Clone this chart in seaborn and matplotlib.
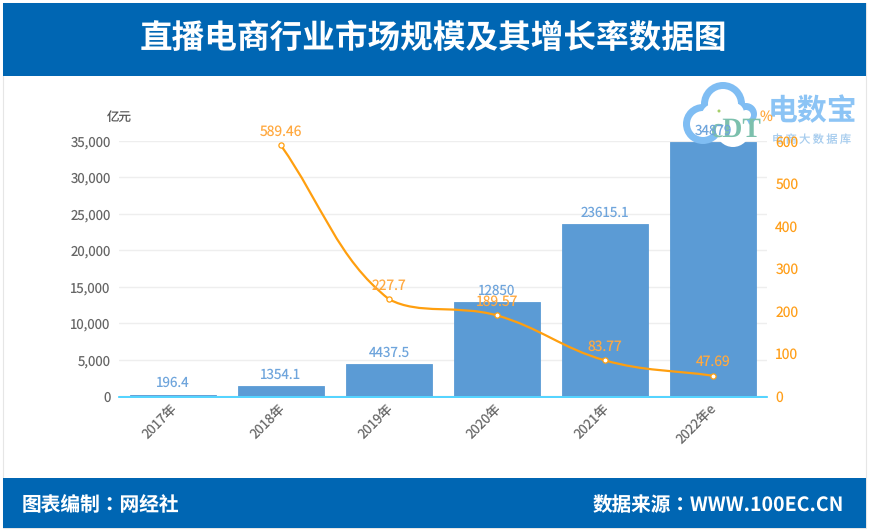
import matplotlib
matplotlib.use("Agg")
import matplotlib.pyplot as plt
from matplotlib.patches import Circle, PathPatch, Rectangle
from matplotlib.path import Path
from matplotlib.transforms import ScaledTranslation
import numpy as np
import pandas as pd
import seaborn as sns

years = ["2017年", "2018年", "2019年", "2020年", "2021年", "2022年e"]
market_size = [196.4, 1354.1, 4437.5, 12850, 23615.1, 34879]
market_labels = ["196.4", "1354.1", "4437.5", "12850", "23615.1", "34879"]
growth = [np.nan, 589.46, 227.7, 189.57, 83.77, 47.69]
growth_labels = ["", "589.46", "227.7", "189.57", "83.77", "47.69"]
left_ticks = [0, 5000, 10000, 15000, 20000, 25000, 30000, 35000]
right_ticks = [0, 100, 200, 300, 400, 500, 600]

BLUE = "#0066b3"
BAR = "#5b9bd5"
ORANGE = "#ff9f0f"
LABEL_ORANGE = "#ffa940"
GREY = "#666666"
W, H = 869, 532

sns.set_theme(style="white")
plt.rcParams["font.family"] = ["Noto Sans CJK SC", "DejaVu Sans"]
plt.rcParams["text.hinting"] = "no_hinting"

df = pd.DataFrame({"year": years, "size": market_size, "growth": growth})

fig = plt.figure(figsize=(W / 100, H / 100), dpi=100, facecolor="white")


def pixel_axes(zorder):
    # full figure axes in image pixels, for the bands and the logo
    a = fig.add_axes([0, 0, 1, 1], zorder=zorder)
    a.set_xlim(0, W)
    a.set_ylim(H, 0)
    a.axis("off")
    return a


# header, footer
bg = pixel_axes(0)
bg.add_patch(Rectangle((3, 3), 863, 525, fc="white", ec="#e6e6e6", lw=0.8))
bg.add_patch(Rectangle((3, 3), 863, 73, fc=BLUE, ec="none"))
bg.add_patch(Rectangle((3, 478), 863, 50, fc=BLUE, ec="none"))
bg.text(433, 38, "直播电商行业市场规模及其增长率数据图", color="white", fontsize=23.5,
        fontweight="bold", ha="center", va="center")
# the TC face has the centred colon of the original
bg.text(22, 505, "图表编制：网经社", color="white", fontsize=14.2, family=["Noto Sans CJK TC", "DejaVu Sans"],
        fontweight="bold", ha="left", va="center")
bg.text(844, 505, "数据来源：WWW.100EC.CN", color="white", fontsize=14.1, family=["Noto Sans CJK TC", "DejaVu Sans"],
        fontweight="bold", ha="right", va="center")

# bars
rect = [119 / W, 1 - 396 / H, 648 / W, 255 / H]
ax = fig.add_axes(rect, zorder=1)
ax.patch.set_alpha(0)
sns.barplot(data=df, x="year", y="size", color=BAR, saturation=1, width=0.8, ax=ax, zorder=3,
            edgecolor=BAR, linewidth=0.6)
ax.set_xlim(-0.5, 5.5)
ax.set_ylim(0, 35000)
ax.set_yticks(left_ticks)
ax.set_yticklabels([f"{t:,}" for t in left_ticks])
ax.set_xlabel("")
ax.set_ylabel("")
ax.grid(axis="y", color="#eeeeee", lw=1)
ax.set_axisbelow(True)
for side in ["top", "left", "right"]:
    ax.spines[side].set_visible(False)
ax.spines["bottom"].set_color("#33ccff")
ax.spines["bottom"].set_linewidth(1.2)
ax.spines["bottom"].set_position(("outward", 0.8))
ax.spines["bottom"].set_zorder(2)
# set_position resets the axis, so the labels are styled after it
ax.tick_params(axis="y", length=0, pad=6, labelsize=9.5, labelcolor=GREY)
ax.tick_params(axis="x", length=0, pad=3, labelsize=9.5, labelcolor=GREY)
ax.set_xticks(range(len(years)))
ax.set_xticklabels(years)
plt.setp(ax.get_xticklabels(), rotation=45, ha="right", rotation_mode="anchor")
nudge = ScaledTranslation(-3 / 100, 0, fig.dpi_scale_trans)
for lab in ax.get_xticklabels():
    lab.set_transform(lab.get_transform() + nudge)

# watermark logo sits over the bars but under the labels
logo = pixel_axes(2)
cloud = "#7fbdf3"
for cx, cy, r in [(703, 124, 20), (723, 104, 22), (746, 114, 11)]:
    logo.add_patch(Circle((cx, cy), r, fc=cloud, ec="none"))
for cx, cy, r in [(703, 124, 13), (723, 104, 15), (746, 115, 5), (716, 118, 15), (734, 113, 10), (733, 130, 17)]:
    logo.add_patch(Circle((cx, cy), r, fc="white", ec="none"))
logo.text(735, 130, "cDT", color="#7cc0ad", fontsize=20, fontweight="bold", family="Liberation Serif",
          ha="center", va="center")
logo.add_patch(Circle((719, 111), 1.5, fc="#a6cf6a", ec="none"))
logo.text(812, 111, "电数宝", color="#8cc4f5", fontsize=21.5, fontweight="bold", ha="center", va="center")
logo.text(812, 140, "电 商 大 数 据 库", color="#a8cdee", fontsize=8, ha="center", va="center")

# growth line on its own axis
ax2 = fig.add_axes(rect, zorder=3, sharex=ax)
ax2.patch.set_alpha(0)
ax2.yaxis.tick_right()
ax2.set_ylim(0, 600)
ax2.set_yticks(right_ticks)
ax2.tick_params(axis="y", length=0, pad=6, labelsize=10, labelcolor="#ff9f1a", labelright=True, labelleft=False)
ax2.tick_params(axis="x", length=0, labelbottom=False)
for side in ax2.spines:
    ax2.spines[side].set_visible(False)

# smooth the line with bezier segments, tangents as echarts does it
xs = np.arange(1, 6)
ys = np.array(growth[1:])
px = np.column_stack([xs * 108.0, ys * 0.425])
smooth = 0.38
verts = [(xs[0], ys[0])]
codes = [Path.MOVETO]
for i in range(4):
    p0, p1 = px[i], px[i + 1]
    prev_p = px[i - 1] if i > 0 else p0
    next_p = px[i + 2] if i < 3 else p1
    len_a = np.hypot(*(p0 - prev_p))
    len_b = np.hypot(*(p1 - p0))
    len_c = np.hypot(*(next_p - p1))
    c1 = p0 + (p1 - prev_p) * smooth * len_b / (len_a + len_b)
    c2 = p1 - (next_p - p0) * smooth * len_b / (len_b + len_c)
    c1[1] = np.clip(c1[1], p1[1], p0[1])
    c2[1] = np.clip(c2[1], p1[1], p0[1])
    for c in (c1, c2, p1):
        verts.append((c[0] / 108.0, c[1] / 0.425))
        codes.append(Path.CURVE4)
ax2.add_patch(PathPatch(Path(verts, codes), fc="none", ec=ORANGE, lw=1.6, zorder=3))
sns.scatterplot(x=xs, y=ys, ax=ax2, s=14, color="white", edgecolor=ORANGE, linewidth=0.9, zorder=4, legend=False)
ax2.set_xlim(-0.5, 5.5)
ax2.set_ylim(0, 600)
ax2.set_xlabel("")
ax2.set_ylabel("")

# value labels
for i, (v, lab) in enumerate(zip(market_size, market_labels)):
    ax2.annotate(lab, (i, v), xycoords=ax.transData, xytext=(0, 3), textcoords="offset points",
                 ha="center", va="bottom", fontsize=9.7, color="#6fa5dc")
for i, (v, lab) in enumerate(zip(growth, growth_labels)):
    if lab:
        ax2.annotate(lab, (i, v), xycoords="data", xytext=(0, 4.5), textcoords="offset points",
                     ha="center", va="bottom", fontsize=10, color=LABEL_ORANGE)

ax2.annotate("亿元", (119, 117), xycoords=logo.transData, ha="center", va="center", fontsize=9, color="#555555")
ax2.annotate("%", (766, 117), xycoords=logo.transData, ha="center", va="center", fontsize=10, color=LABEL_ORANGE)

fig.savefig("out.png", dpi=100, facecolor="white")
